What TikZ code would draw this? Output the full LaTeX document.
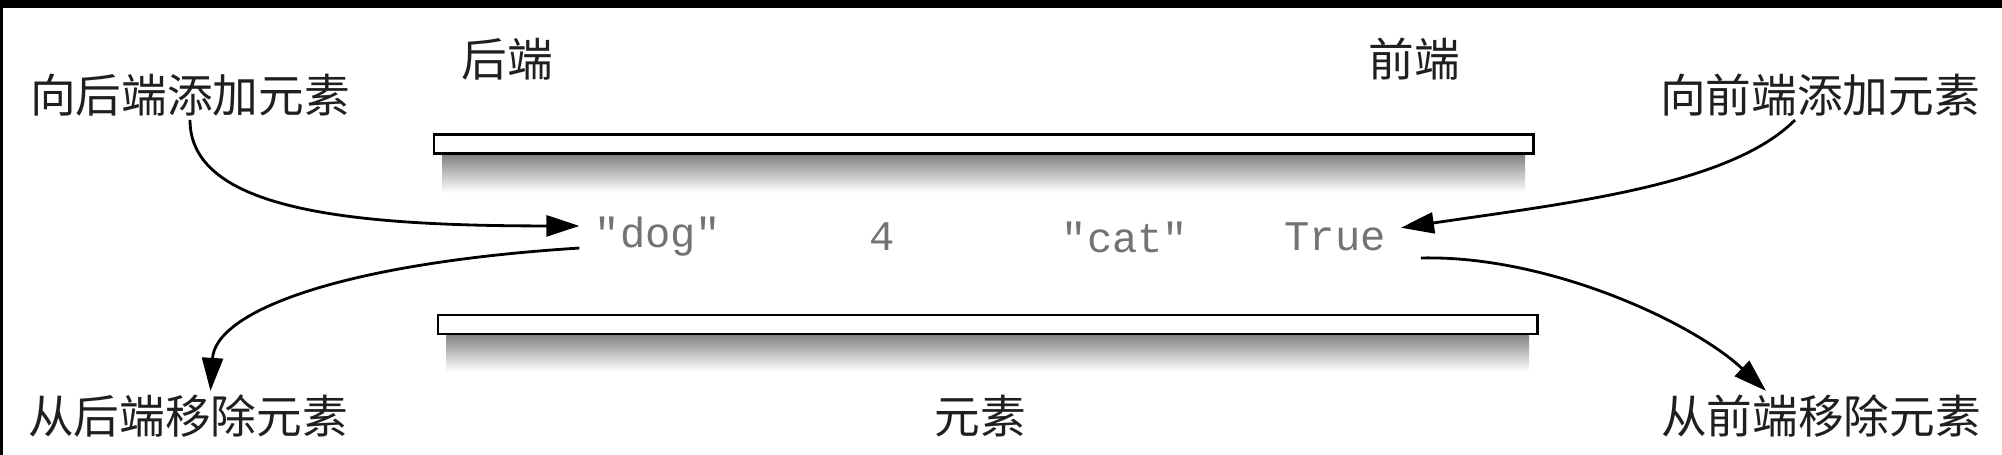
\documentclass[tikz,border=0pt]{standalone}
\usepackage{fontspec}
\newfontfamily\cjk{Noto Sans CJK SC}
\newfontfamily\codefont{Liberation Mono}
\usetikzlibrary{arrows.meta}
\definecolor{codegray}{gray}{0.45}
\definecolor{labelblack}{gray}{0.12}

\begin{document}
\begin{tikzpicture}[
		lbl/.style={font=\cjk\fontsize{26pt}{30pt}\selectfont, text=labelblack, inner sep=2pt},
		code/.style={font=\codefont\fontsize{24pt}{28pt}\selectfont, text=codegray, inner sep=0.3cm},
		rail/.style={draw, line width=1.7pt, fill=white, minimum height=0.38cm, inner sep=0pt},
		arr/.style={line width=1.6pt, -{Triangle[length=0.66cm,width=0.42cm]}}
	]
	\useasboundingbox (0,0) rectangle (40.04,9.1);
	\fill (0,8.94) rectangle (40.04,9.1);
	\fill (0,0) rectangle (0.05,8.94);
	\shade[top color=black!50, bottom color=white] (8.85,6.02) rectangle (30.5,5.25);
	\shade[top color=black!50, bottom color=white] (8.93,2.42) rectangle (30.58,1.67);
	\node[rail, minimum width=21.98cm] (toprail) at (19.67,6.21) {};
	\node[rail, minimum width=21.98cm] (bottomrail) at (19.75,2.61) {};
	\node[lbl] (back) at (10.14,7.92) {后端};
	\node[lbl] (front) at (28.28,7.92) {前端};
	\node[lbl] (addback) at (3.8,7.2) {向后端添加元素};
	\node[lbl] (addfront) at (36.4,7.2) {向前端添加元素};
	\node[lbl] (rmback) at (3.76,0.78) {从后端移除元素};
	\node[lbl] (rmfront) at (36.42,0.78) {从前端移除元素};
	\node[lbl] (items) at (19.6,0.78) {元素};
	\node[code] (dog) at (13.16,4.36) {"dog"};
	\node[code] (four) at (17.64,4.36) {4};
	\node[code] (cat) at (22.5,4.36) {"cat"};
	\node[code] (true) at (26.7,4.36) {True};
	\draw[arr] (addback.south) .. controls +(0,-1.8) and +(-4.6,0) .. (dog.172);
	\draw[arr] (dog.188) .. controls +(-4.74,-0.3) and +(0.1,1.6) .. ([xshift=0.45cm]rmback.north);
	\draw[arr] ([xshift=-0.5cm]addfront.south) .. controls +(-1.3,-1.3) and +(3.4,0.5) .. (true.8);
	\draw[arr] ([xshift=0.4cm,yshift=-0.42cm]true.east) .. controls +(2.5,0.06) and +(-1.5,1.4) .. ([xshift=-1.1cm]rmfront.north);
\end{tikzpicture}
\end{document}
